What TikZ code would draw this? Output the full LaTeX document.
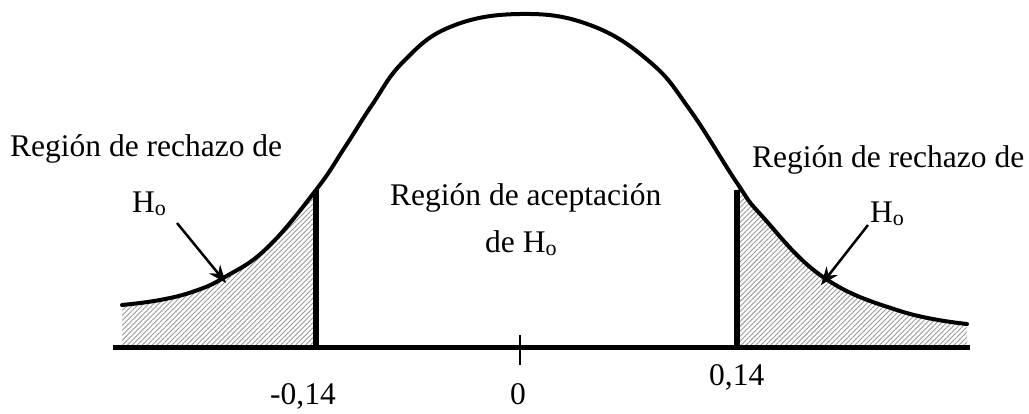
\documentclass[tikz,border=0pt]{standalone}
\usepackage{fontspec}
\setmainfont{Liberation Serif}
\usetikzlibrary{patterns.meta,arrows.meta}
\begin{document}
\begin{tikzpicture}[x=1pt,y=-1pt,
  lbl/.style={font=\fontsize{31.5}{36}\selectfont, inner sep=0pt, anchor=base west},
  thickline/.style={line width=5pt},
  curvestyle/.style={line width=4pt, line join=round, line cap=round},
  arr/.style={line width=2.5pt, -{Stealth[length=18pt,width=14pt]}},
  hatch/.style={pattern={Lines[angle=45,distance=3.5pt,line width=0.9pt]}, pattern color=gray!80}]
\useasboundingbox (0,0) rectangle (1029,413);
% hatched rejection regions
\begin{scope}
  \clip (122,347) -- plot[smooth,tension=0.7] coordinates {(122,305) (160,300) (195,291) (225,277) (267,248) (316,190) (345,147) (372,105) (403,62) (450,27) (520,14) (590,25) (650,62) (690,110) (737,183) (762,216) (823,277) (900,311) (967,324)} -- (967,347) -- cycle;
  \fill[hatch] (118,150) rectangle (316,347);
  \fill[hatch] (737,150) rectangle (972,347);
\end{scope}
% curve
\draw[curvestyle] plot[smooth,tension=0.7] coordinates {(122,305) (160,300) (195,291) (225,277) (267,248) (316,190) (345,147) (372,105) (403,62) (450,27) (520,14) (590,25) (650,62) (690,110) (737,183) (762,216) (823,277) (900,311) (967,324)};
% axis and limits
\coordinate (axL) at (113,347);
\coordinate (axR) at (970,347);
\draw[thickline] (axL) -- (axR);
\coordinate (vl1) at (316,190);
\coordinate (vl2) at (316,349);
\coordinate (vr1) at (737,190);
\coordinate (vr2) at (737,349);
\draw[line width=5.5pt] (vl1) -- (vl2);
\draw[line width=5.5pt] (vr1) -- (vr2);
\coordinate (t1) at (520,335);
\coordinate (t2) at (520,365);
\draw[line width=2.5pt] (t1) -- (t2);
% labels
\node[lbl] (rl) at (10,156) {Región de rechazo de};
\node[lbl] (rh) at (132,212) {H\textsubscript{o}};
\node[lbl] (rr) at (752,167) {Región de rechazo de};
\node[lbl] (rrh) at (870,222) {H\textsubscript{o}};
\node[lbl] (ca) at (390,205) {Región de aceptación};
\node[lbl] (cb) at (485,252) {de H\textsubscript{o}};
\node[lbl] (m14) at (270,404) {-0,14};
\node[lbl, anchor=base] (z) at (518,404) {0};
\node[lbl] (p14) at (709,385) {0,14};
% arrows
\coordinate (la1) at (177,223);
\coordinate (la2) at (226,283);
\coordinate (ra1) at (868,225);
\coordinate (ra2) at (821,285);
\draw[arr] (la1) -- (la2);
\draw[arr] (ra1) -- (ra2);
\end{tikzpicture}
\end{document}
